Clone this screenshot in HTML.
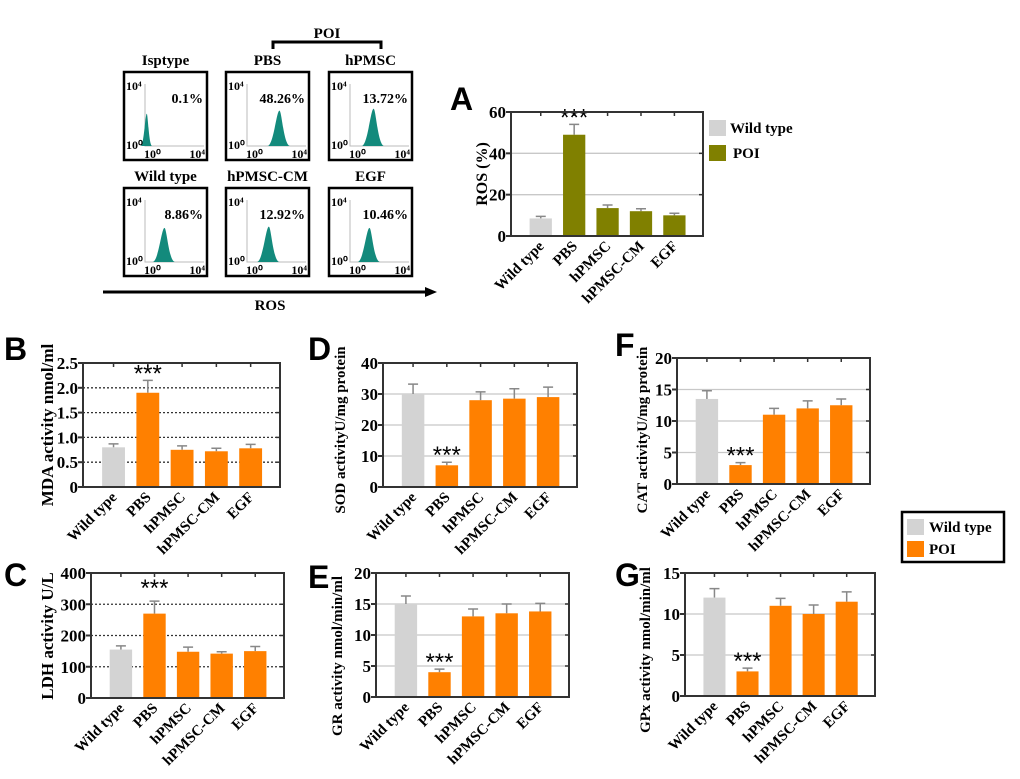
<!DOCTYPE html>
<html><head><meta charset="utf-8"><style>
body{margin:0;background:#fff;}
svg{display:block;font-family:"Liberation Serif",serif;font-weight:bold;}
.pl{font-family:"Liberation Sans",sans-serif;font-weight:bold;font-size:32px;}
</style></head><body>
<svg id="fig" width="1020" height="779" viewBox="0 0 1020 779" xmlns="http://www.w3.org/2000/svg">
<g id="flow"></g>
<g id="charts"></g>
<text x="327" y="38" font-size="15" text-anchor="middle">POI</text>
<path d="M273,49 V42 H381 V49" fill="none" stroke="#000" stroke-width="3"/>
<line x1="103" y1="292" x2="425" y2="292" stroke="#000" stroke-width="3"/>
<polygon points="425,287 437,292 425,297" fill="#000"/>
<text x="270" y="310" font-size="15" text-anchor="middle">ROS</text>
<text class="pl" x="450" y="110">A</text>
<text class="pl" x="4" y="360">B</text>
<text class="pl" x="4" y="586">C</text>
<text class="pl" x="308" y="360">D</text>
<text class="pl" x="308" y="588">E</text>
<text class="pl" x="615" y="356">F</text>
<text class="pl" x="615" y="586">G</text>
<g>
<rect x="709" y="120" width="17" height="16" fill="#d3d3d3"/>
<text x="730" y="133" font-size="15">Wild type</text>
<rect x="709" y="145" width="17" height="16" fill="#808000"/>
<text x="733" y="158" font-size="15">POI</text>
</g>
<g>
<rect x="902" y="512" width="102" height="50" fill="#fff" stroke="#000" stroke-width="2.5"/>
<rect x="907" y="519" width="17" height="16" fill="#d3d3d3"/>
<text x="929" y="532" font-size="15">Wild type</text>
<rect x="907" y="541" width="17" height="16" fill="#ff8000"/>
<text x="929" y="554" font-size="15">POI</text>
</g>
</svg>
<script>
const NS="http://www.w3.org/2000/svg";
const categories=["Wild type","PBS","hPMSC","hPMSC-CM","EGF"];
const rosValues=[8.5,49,13.5,12,10];
const rosErrors=[1,5,1.5,1.2,1];
const rosTicks=[0,20,40,60];
const mdaValues=[0.8,1.9,0.75,0.72,0.78];
const mdaErrors=[0.07,0.25,0.08,0.06,0.08];
const mdaTicks=[0,0.5,1.0,1.5,2.0,2.5];
const mdaTickLabels=["0","0.5","1.0","1.5","2.0","2.5"];
const ldhValues=[155,270,148,142,150];
const ldhErrors=[12,40,15,6,15];
const ldhTicks=[0,100,200,300,400];
const sodValues=[30,7,28,28.5,29];
const sodErrors=[3.2,1,2.7,3.2,3.2];
const sodTicks=[0,10,20,30,40];
const grValues=[15,4,13,13.5,13.8];
const grErrors=[1.3,0.5,1.2,1.5,1.3];
const grTicks=[0,5,10,15,20];
const catValues=[13.5,3,11,12,12.5];
const catErrors=[1.3,0.4,1,1.2,1];
const catTicks=[0,5,10,15,20];
const gpxValues=[12,3,11,10,11.5];
const gpxErrors=[1.1,0.4,0.9,1.1,1.2];
const gpxTicks=[0,5,10,15];
const flowTitles=["Isptype","PBS","hPMSC","Wild type","hPMSC-CM","EGF"];
const flowPercents=["0.1%","48.26%","13.72%","8.86%","12.92%","10.46%"];
const flowPeakPos=[0.03,0.55,0.40,0.33,0.37,0.33];
const flowPeakHeight=[0.52,0.57,0.60,0.55,0.57,0.55];

function el(tag,attrs,parent){const e=document.createElementNS(NS,tag);for(const k in attrs)e.setAttribute(k,attrs[k]);parent.appendChild(e);return e;}

const charts=document.getElementById('charts');
function barChart(cfg){
  const g=el('g',{},charts);
  
  
  const L=cfg.x0,R=cfg.x1,T=cfg.y0,B=cfg.y1,W=R-L;
  const ymax=cfg.ticks[cfg.ticks.length-1];
  const y=v=>B-(v/ymax)*(B-T);
  const xc=i=>L+W*(0.155+0.174*i);
  const bw=W*0.116;
  cfg.ticks.forEach((t,k)=>{
    if(t===0||t===ymax)return;
    const gl=el('line',{x1:L,x2:R,y1:y(t),y2:y(t),stroke:cfg.dotted?'#333':'#c8c8c8','stroke-width':1.3},g);
    if(cfg.dotted)gl.setAttribute('stroke-dasharray','2,2');
    
    
  });
  cfg.values.forEach((v,i)=>{
    const col=i===0?'#d3d3d3':cfg.color;
    const e=cfg.errors[i];
    const eb=el('path',{d:`M${xc(i)},${y(v)} V${y(v+e)} M${xc(i)-5},${y(v+e)} H${xc(i)+5}`,stroke:'#888',fill:'none','stroke-width':1.5},g);
    
    
    const r=el('rect',{x:xc(i)-bw/2,y:y(v),width:bw,height:B-y(v),fill:col},g);
    
    
    const xl=el('text',{x:0,y:0,'font-size':15,'text-anchor':'end',transform:`translate(${xc(i)+4},${B+11}) rotate(-45)`},g);
    xl.textContent=categories[i];
    
    
    const tt=el('line',{x1:xc(i),x2:xc(i),y1:T,y2:T+4,stroke:'#333','stroke-width':1.5},g);
    
    
  });
  const sig=el('text',{x:xc(1),y:y(cfg.sigAt)+1,'font-size':24,'text-anchor':'middle','font-family':'Liberation Sans, sans-serif','font-weight':'normal'},g);
  sig.textContent='***';
  
  
  const fr=el('rect',{x:L,y:T,width:W,height:B-T,fill:'none',stroke:'#333','stroke-width':2},g);
  
  
  cfg.ticks.forEach((t,k)=>{
    const tl=el('line',{x1:L-5,x2:L,y1:y(t),y2:y(t),stroke:'#333','stroke-width':2},g);
    
    
    const tr=el('line',{x1:R-4,x2:R,y1:y(t),y2:y(t),stroke:'#333','stroke-width':1.5},g);
    
    
    const lab=el('text',{x:L-5,y:y(t)+6,'font-size':17,'text-anchor':'end'},g);
    lab.textContent=cfg.tickLabels?cfg.tickLabels[k]:String(t);
    
    
  });
  const yt=el('text',{x:0,y:0,'font-size':cfg.tfs||15,'text-anchor':'middle',transform:`translate(${cfg.tx},${cfg.ty}) rotate(-90)`},g);
  yt.textContent=cfg.title;
  
  
}
barChart({name:'chart-a-ros',x0:511,x1:703,y0:112,y1:236,values:rosValues,errors:rosErrors,ticks:rosTicks,color:'#808000',sigAt:54,title:'ROS (%)',tx:487,ty:174,tfs:16});
barChart({name:'chart-b-mda',x0:83,x1:280,y0:363,y1:487,values:mdaValues,errors:mdaErrors,ticks:mdaTicks,tickLabels:mdaTickLabels,color:'#ff8000',sigAt:2.15,dotted:true,title:'MDA activity nmol/ml',tx:53,ty:425,tfs:17});
barChart({name:'chart-c-ldh',x0:91,x1:284,y0:573,y1:698,values:ldhValues,errors:ldhErrors,ticks:ldhTicks,color:'#ff8000',sigAt:330,dotted:true,title:'LDH activity  U/L',tx:53,ty:636,tfs:17});
barChart({name:'chart-d-sod',x0:383,x1:577,y0:363,y1:487,values:sodValues,errors:sodErrors,ticks:sodTicks,color:'#ff8000',sigAt:8,title:'SOD activityU/mg protein',tx:345,ty:430,tfs:15});
barChart({name:'chart-e-gr',x0:376,x1:569,y0:573,y1:697,values:grValues,errors:grErrors,ticks:grTicks,color:'#ff8000',sigAt:4.5,title:'GR activity nmol/min/ml',tx:342,ty:656,tfs:15});
barChart({name:'chart-f-cat',x0:677,x1:870,y0:358,y1:484,values:catValues,errors:catErrors,ticks:catTicks,color:'#ff8000',sigAt:3.4,title:'CAT activityU/mg protein',tx:647,ty:430,tfs:15});
barChart({name:'chart-g-gpx',x0:685,x1:875,y0:573,y1:696,values:gpxValues,errors:gpxErrors,ticks:gpxTicks,color:'#ff8000',sigAt:3.4,title:'GPx activity nmol/min/ml',tx:650,ty:650,tfs:15});

const flow=document.getElementById('flow');
const boxX=[124,226,329],boxY=[72,188];
flowTitles.forEach((t,i)=>{
  const bx=boxX[i%3],by=boxY[Math.floor(i/3)],bw=83,bh=88;
  const g=el('g',{},flow);
  
  
  const ti=el('text',{x:bx+bw/2,y:by-7,'font-size':15,'text-anchor':'middle'},g);
  ti.textContent=t;
  
  
  const box=el('rect',{x:bx,y:by,width:bw,height:bh,fill:'#fff',stroke:'#000','stroke-width':2.5},g);
  
  
  const ax=bx+21,ay0=by+12,ay1=by+74,axR=bx+80;
  el('path',{d:`M${ax},${ay0} V${ay1} H${axR}`,stroke:'#bbb',fill:'none','stroke-width':1},g);
  const px=ax+flowPeakPos[i]*(axR-ax),ph=flowPeakHeight[i]*(ay1-ay0);
  const w=i===0?3:6;
  const pk=el('path',{d:`M${px-w*2},${ay1} C${px-w},${ay1} ${px-w*0.5},${ay1-ph} ${px},${ay1-ph} C${px+w*0.4},${ay1-ph} ${px+w*0.7},${ay1} ${px+w*1.8},${ay1} Z`,fill:'#138a7c'},g);
  
  
  const lbls=[[bx+2,by+18,'10⁴','start'],[bx+2,by+77,'10⁰','start'],[bx+20,by+86,'10⁰','start'],[bx+81,by+86,'10⁴','end']];
  lbls.forEach(l=>{const tx=el('text',{x:l[0],y:l[1],'font-size':12,'text-anchor':l[3]},g);tx.textContent=l[2];
    
    });
  const pc=el('text',{x:bx+79,y:by+31,'font-size':14,'text-anchor':'end'},g);
  pc.textContent=flowPercents[i];
  
  
});
</script>
</body></html>
